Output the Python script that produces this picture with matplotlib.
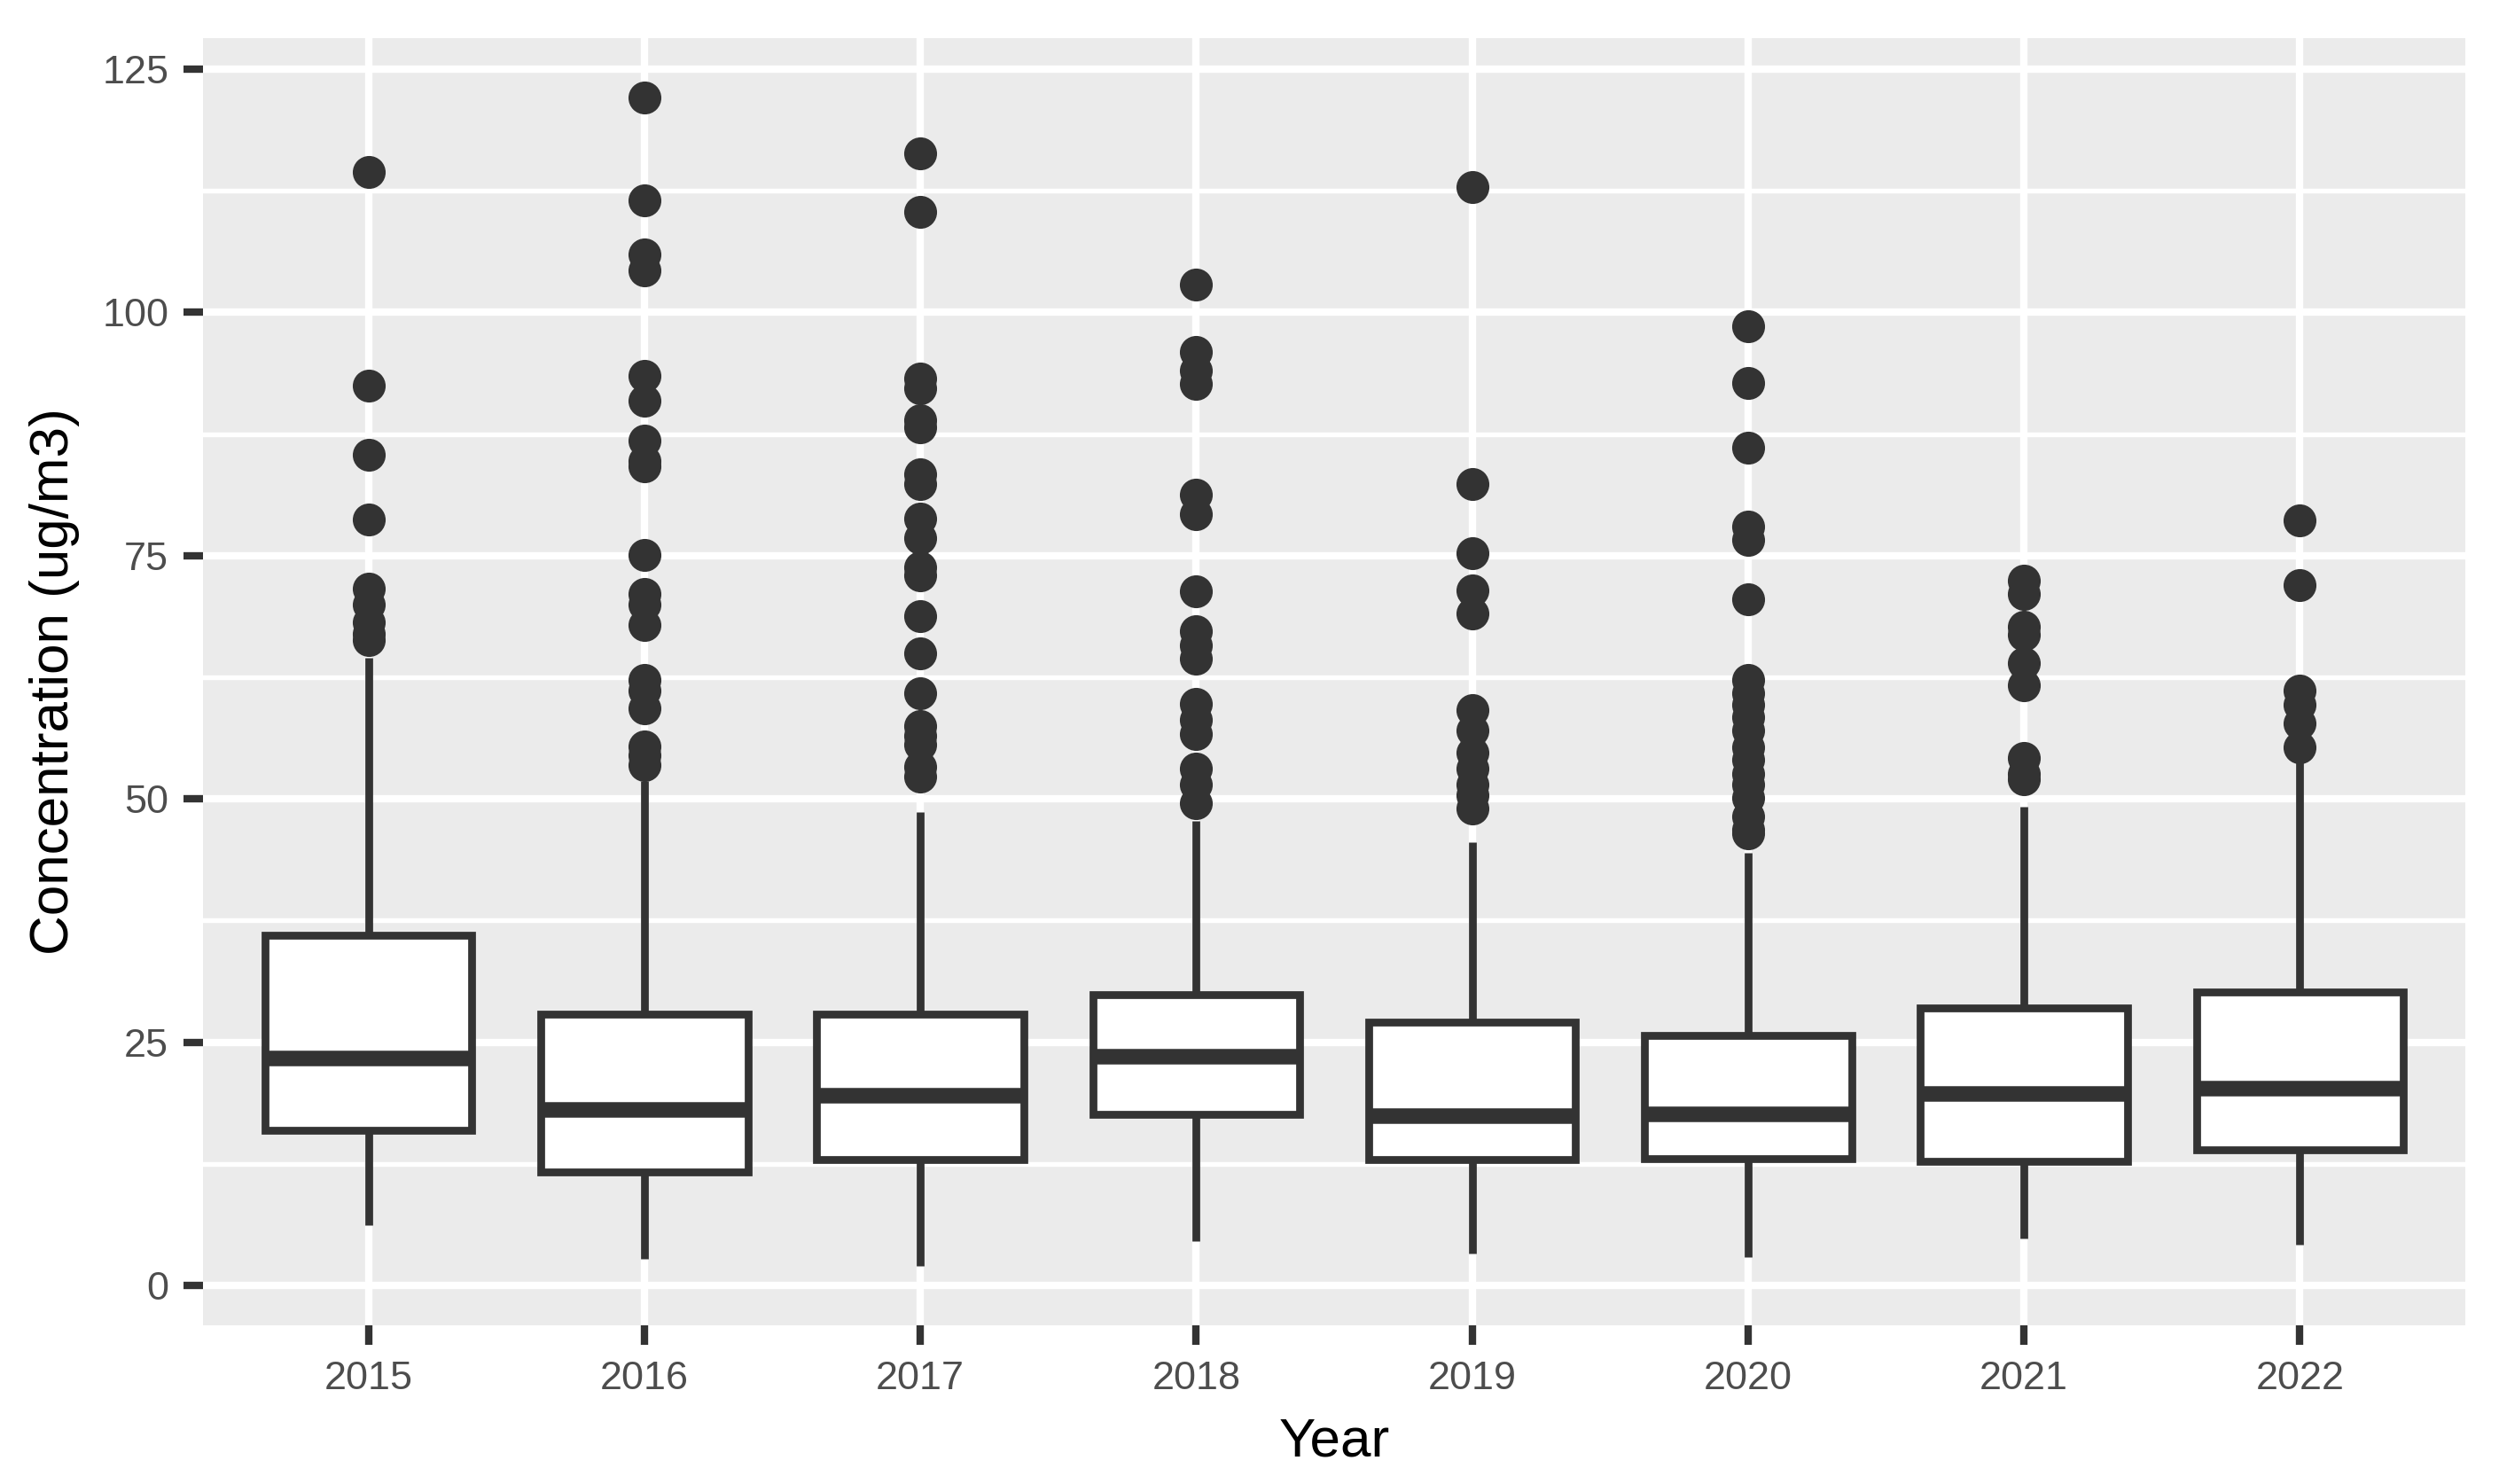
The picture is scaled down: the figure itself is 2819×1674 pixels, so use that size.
import numpy as np
import matplotlib
matplotlib.use("Agg")
import matplotlib.pyplot as plt
from matplotlib.ticker import MultipleLocator

plt.rcParams['font.family'] = ['Liberation Sans', 'DejaVu Sans']

# box statistics per year
years = ['2015', '2016', '2017', '2018', '2019', '2020', '2021', '2022']
q1 = [15.9, 11.7, 12.9, 17.6, 12.9, 13.0, 12.8, 13.9]
med = [23.3, 18.0, 19.5, 23.5, 17.4, 17.6, 19.7, 20.2]
q3 = [36.0, 27.9, 27.9, 29.9, 27.1, 25.7, 28.5, 30.2]
whis_lo = [6.2, 2.7, 2.0, 4.6, 3.3, 2.9, 4.8, 4.2]
whis_hi = [64.5, 51.8, 48.7, 47.7, 45.6, 44.5, 49.2, 54.0]

# outliers per year
out_2015 = [114.4, 92.5, 85.4, 78.7, 71.6, 70.0, 68.2, 67.0, 66.3]
out_2016 = [122.1, 111.5, 106.0, 104.3, 93.5, 90.9, 86.8, 84.7, 84.2, 75.1,
            71.1, 70.0, 67.9, 62.2, 61.1, 59.3, 55.4, 54.5, 53.5]
out_2017 = [116.4, 110.3, 93.2, 92.2, 88.9, 88.2, 83.4, 82.4, 78.8, 76.8,
            73.8, 73.0, 68.8, 65.0, 60.9, 57.5, 56.5, 55.6, 53.3, 52.3]
out_2018 = [102.9, 95.9, 94.0, 92.7, 81.3, 79.3, 71.3, 67.2, 65.8, 64.4,
            59.8, 58.1, 56.7, 53.1, 51.5, 49.6]
out_2019 = [112.9, 82.4, 75.3, 71.4, 69.1, 59.1, 57.0, 54.8, 53.1, 51.5,
            50.4, 49.0]
out_2020 = [98.6, 92.8, 86.1, 78.0, 76.6, 70.5, 62.2, 60.9, 59.7, 58.4,
            57.0, 55.3, 54.0, 52.6, 51.5, 50.1, 48.2, 46.8, 46.5]
out_2021 = [72.4, 71.1, 67.7, 66.9, 64.0, 61.7, 54.2, 52.6, 52.0]
out_2022 = [78.6, 72.0, 61.1, 59.7, 57.8, 55.3]
outliers = [out_2015, out_2016, out_2017, out_2018, out_2019, out_2020,
            out_2021, out_2022]

dark = '#333333'
W, H, DPI = 2819, 1674, 300

fig = plt.figure(figsize=(W / DPI, H / DPI), dpi=DPI)
ax = fig.add_axes([229 / W, 1 - 1495 / H, (2781 - 229) / W, (1495 - 43) / H])
ax.set_facecolor('#EBEBEB')
for s in ax.spines.values():
    s.set_visible(False)

stats = []
for i in range(len(years)):
    stats.append({'label': years[i], 'q1': q1[i], 'med': med[i], 'q3': q3[i],
                  'whislo': whis_lo[i], 'whishi': whis_hi[i],
                  'fliers': outliers[i]})

pos = np.arange(1, len(years) + 1)
ax.bxp(stats, positions=pos, widths=0.75, patch_artist=True,
       showcaps=False, zorder=3,
       boxprops=dict(facecolor='white', edgecolor=dark, linewidth=2.1,
                     joinstyle='miter'),
       medianprops=dict(color=dark, linewidth=4.2, solid_capstyle='butt'),
       whiskerprops=dict(color=dark, linewidth=2.1, solid_capstyle='butt'),
       flierprops=dict(marker='o', markerfacecolor=dark, markeredgecolor='none',
                       markersize=8.9))

ax.set_xlim(0.4, len(years) + 0.6)
ax.set_ylim(-4.1, 128.2)
ax.yaxis.set_major_locator(MultipleLocator(25))
ax.yaxis.set_minor_locator(MultipleLocator(12.5))
ax.grid(True, which='major', color='white', linewidth=2.0, zorder=0)
ax.grid(True, which='minor', axis='y', color='white', linewidth=1.3, zorder=0)
ax.set_axisbelow(True)

ax.tick_params(axis='both', which='major', length=5.2, width=2.0, color=dark,
               labelcolor='#4D4D4D', labelsize=10.8)
ax.tick_params(axis='y', which='minor', length=0)
ax.tick_params(axis='x', pad=4.3)
ax.tick_params(axis='y', pad=4.1)

ax.set_xlabel('Year', fontsize=14.9, color='black', labelpad=5.6)
ax.set_ylabel('Concentration (ug/m3)', fontsize=14.9, color='black', labelpad=6.0)

fig.savefig('out.png', dpi=DPI)
